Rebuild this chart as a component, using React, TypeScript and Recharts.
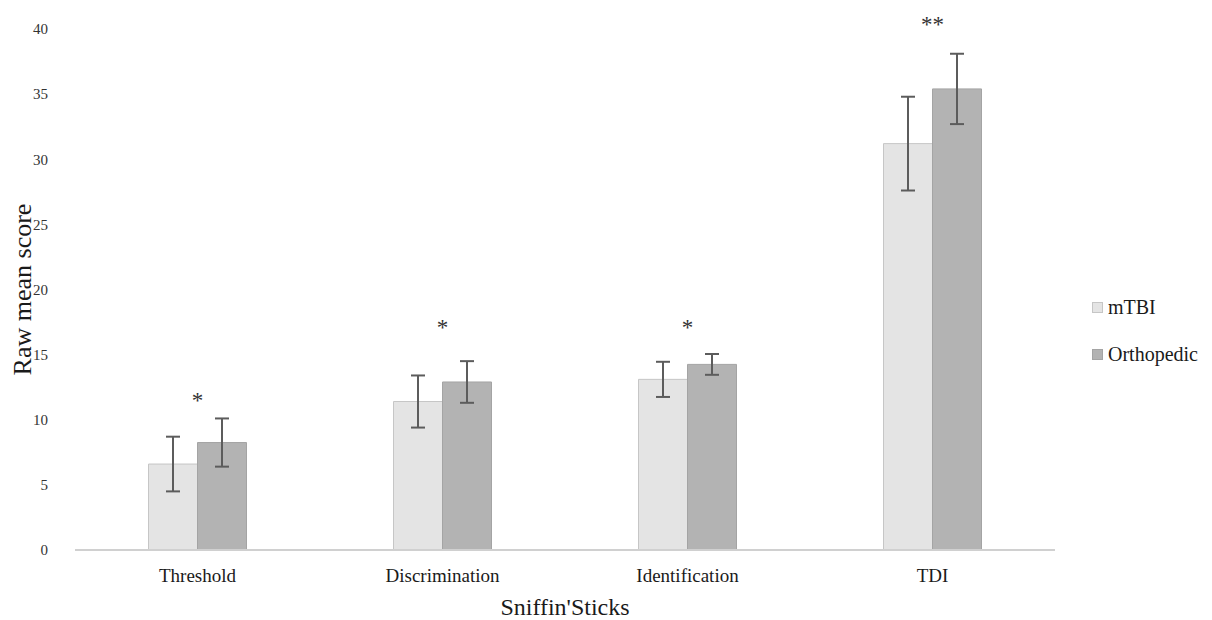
import { BarChart, Bar, XAxis, YAxis, ErrorBar, Legend, ReferenceDot, Label } from "recharts"

const FONT = "'Liberation Serif', 'Times New Roman', serif"

// Sniffin' Sticks subtests and raw mean scores per group
const categories = ["Threshold", "Discrimination", "Identification", "TDI"]
const mtbiMeans = [6.6, 11.4, 13.1, 31.2]
const mtbiErrors = [2.1, 2.0, 1.35, 3.6]
const orthoMeans = [8.25, 12.9, 14.25, 35.4]
const orthoErrors = [1.85, 1.6, 0.8, 2.7]

// significance markers and the score level they sit at
const sigMarks = ["*", "*", "*", "**"]
const sigLevels = [11.8, 17.4, 17.4, 40.7]

const yTicks = [0, 5, 10, 15, 20, 25, 30, 35, 40]

const series = [
  { key: "mtbi", err: "mtbiErr", name: "mTBI", fill: "#e4e4e4", stroke: "#c6c6c6" },
  { key: "ortho", err: "orthoErr", name: "Orthopedic", fill: "#b3b3b3", stroke: "#a4a4a4" },
]

const data = categories.map((name, i) => ({
  name,
  mtbi: mtbiMeans[i],
  mtbiErr: mtbiErrors[i],
  ortho: orthoMeans[i],
  orthoErr: orthoErrors[i],
}))

const renderLegend = () => (
  <div style={{ fontFamily: FONT, fontSize: 20, color: "#1a1a1a" }}>
    {series.map((s) => (
      <div key={s.name} style={{ display: "flex", alignItems: "center", height: 47 }}>
        <span
          style={{
            display: "inline-block",
            width: 9,
            height: 9,
            background: s.fill,
            border: `1px solid ${s.stroke}`,
            marginRight: 5,
          }}
        />
        {s.name}
      </div>
    ))}
  </div>
)

export default function App() {
  return (
    <div style={{ position: "absolute", left: 0, top: 0, background: "#fff" }}>
      <BarChart
        width={1212}
        height={620}
        data={data}
        margin={{ top: 29, right: 157, bottom: 0, left: 15 }}
        barCategoryGap="30%"
        barGap={0}
      >
        <XAxis
          dataKey="name"
          height={70}
          axisLine={{ stroke: "#d0d0d0", strokeWidth: 2 }}
          tickLine={false}
          tickSize={0}
          tickMargin={19}
          tick={{ fontSize: 19, fill: "#1a1a1a", fontFamily: FONT }}
        >
          <Label
            content={({ viewBox }: any) => (
              <text
                x={viewBox.x + viewBox.width / 2}
                y={615}
                textAnchor="middle"
                fontSize={24}
                fontFamily={FONT}
                fill="#1a1a1a"
              >
                Sniffin'Sticks
              </text>
            )}
          />
        </XAxis>
        <YAxis
          width={60}
          domain={[0, 40]}
          ticks={yTicks}
          axisLine={false}
          tickLine={false}
          tickSize={0}
          tickMargin={27}
          tick={{ fontSize: 15, fill: "#333", fontFamily: FONT }}
        >
          <Label
            content={({ viewBox }: any) => {
              const cx = 22
              const cy = viewBox.y + viewBox.height / 2
              return (
                <text
                  x={cx}
                  y={cy}
                  transform={`rotate(-90 ${cx} ${cy})`}
                  textAnchor="middle"
                  dominantBaseline="central"
                  fontSize={26}
                  fontFamily={FONT}
                  fill="#1a1a1a"
                >
                  Raw mean score
                </text>
              )
            }}
          />
        </YAxis>
        <Legend
          layout="vertical"
          align="center"
          verticalAlign="middle"
          content={renderLegend}
          wrapperStyle={{ left: 1092, top: 284, width: 120 }}
        />
        {series.map((s) => (
          <Bar
            key={s.key}
            dataKey={s.key}
            name={s.name}
            fill={s.fill}
            stroke={s.stroke}
            strokeWidth={1}
            isAnimationActive={false}
          >
            <ErrorBar dataKey={s.err} width={7} stroke="#5c5c5c" strokeWidth={2} direction="y" />
          </Bar>
        ))}
        {categories.map((c, i) => (
          <ReferenceDot
            key={c}
            x={c}
            y={sigLevels[i]}
            ifOverflow="visible"
            shape={(p: any) => (
              <text
                x={p.cx}
                y={p.cy + 12}
                textAnchor="middle"
                fontSize={23}
                fontFamily={FONT}
                fill="#333"
              >
                {sigMarks[i]}
              </text>
            )}
          />
        ))}
      </BarChart>
    </div>
  )
}
